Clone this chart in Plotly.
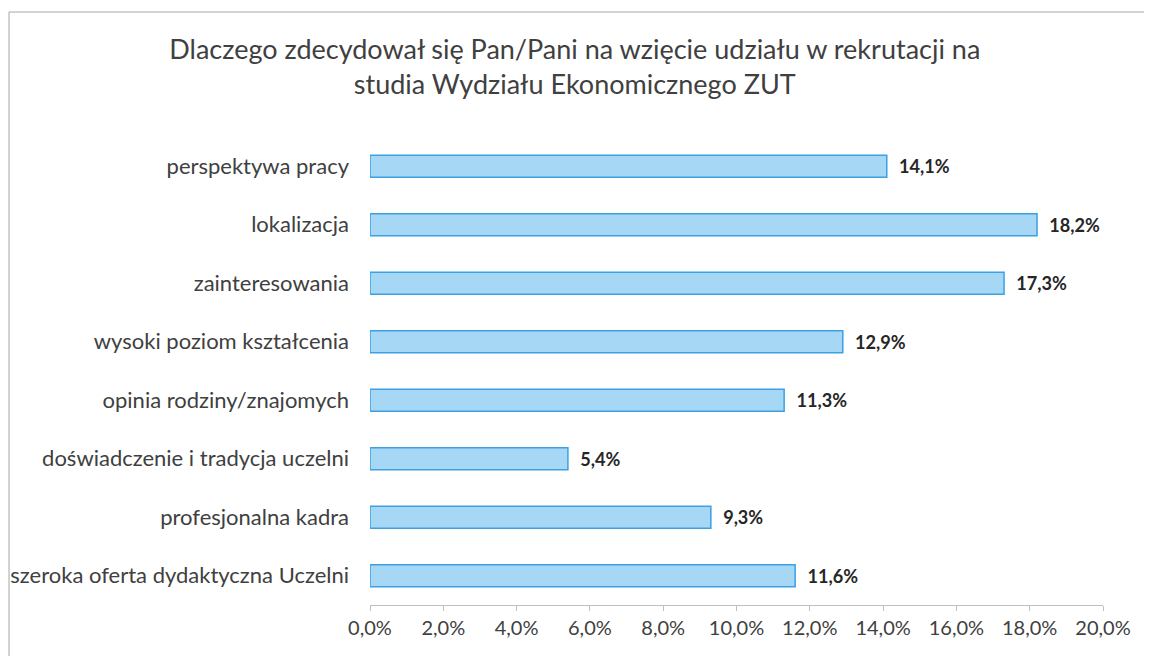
import plotly.graph_objects as go

FONT = 'Lato'
TEXT_COLOR = '#404040'
BAR_FILL = '#a6d7f5'
BAR_EDGE = '#3ba1e2'

categories = [
    'perspektywa pracy',
    'lokalizacja',
    'zainteresowania',
    'wysoki poziom kształcenia',
    'opinia rodziny/znajomych',
    'doświadczenie i tradycja uczelni',
    'profesjonalna kadra',
    'szeroka oferta dydaktyczna Uczelni',
]
values = [14.1, 18.2, 17.3, 12.9, 11.3, 5.4, 9.3, 11.6]
x_ticks = [0, 2, 4, 6, 8, 10, 12, 14, 16, 18, 20]

# the page body has an 8px margin, so the figure sits 8px right/down
fig = go.Figure(
    go.Bar(
        x=values,
        y=categories,
        orientation='h',
        width=0.38,
        marker={'color': BAR_FILL, 'line': {'color': BAR_EDGE, 'width': 1.5}},
        texttemplate='  <b>%{x:.1f}%</b>',
        textposition='outside',
        textfont={'family': FONT, 'size': 22, 'color': '#262626'},
        cliponaxis=False,
    )
)

fig.update_layout(
    width=1152,
    height=656,
    separators=', ',
    paper_bgcolor='white',
    plot_bgcolor='white',
    margin={'l': 362, 'r': 57, 't': 129, 'b': 59},
    showlegend=False,
    font={'family': FONT, 'color': TEXT_COLOR},
    title={
        'text': 'Dlaczego zdecydował się Pan/Pani na wzięcie udziału w rekrutacji na<br>studia Wydziału Ekonomicznego ZUT',
        'x': 0.492,
        'xanchor': 'center',
        'xref': 'container',
        'y': 1 - 51 / 656,
        'yanchor': 'top',
        'font': {'family': FONT, 'size': 27, 'color': TEXT_COLOR},
    },
    xaxis={
        'range': [0, 20],
        'tickvals': x_ticks,
        'ticktext': [f'{t},0%' for t in x_ticks],
        'showgrid': False,
        'zeroline': False,
        'showline': True,
        'linecolor': '#bfbfbf',
        'ticks': 'outside',
        'ticklen': 5,
        'tickcolor': '#bfbfbf',
        'tickfont': {'family': FONT, 'size': 20, 'color': TEXT_COLOR},
        'automargin': False,
    },
    yaxis={
        'autorange': 'reversed',
        'showgrid': False,
        'showline': False,
        'zeroline': False,
        'ticks': '',
        'ticklabelstandoff': 20,
        'tickfont': {'family': FONT, 'size': 22, 'color': TEXT_COLOR},
        'automargin': False,
    },
    shapes=[
        {
            'type': 'rect',
            'xref': 'paper',
            'yref': 'paper',
            'x0': (9 - 370) / 733,
            'x1': (1146 - 370) / 733,
            'y0': (605 - 670) / 468,
            'y1': (605 - 12) / 468,
            'line': {'color': '#a6a6a6', 'width': 1},
            'layer': 'below',
        }
    ],
)

fig.write_html('out.html')
